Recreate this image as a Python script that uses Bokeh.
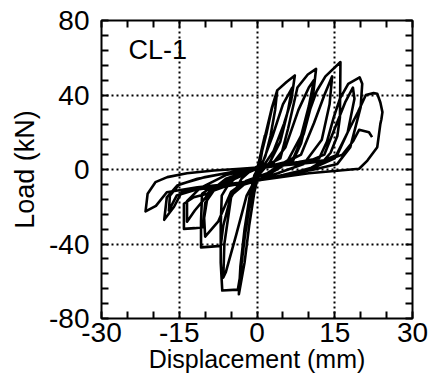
from bokeh.plotting import figure
from bokeh.models import FixedTicker, LinearAxis, Range1d, Label, ColumnDataSource
from bokeh.embed import file_html
from bokeh.resources import INLINE

# ---- data ----
x_ticks = [-30, -15, 0, 15, 30]
x_minor = [-25, -20, -10, -5, 5, 10, 20, 25]
y_ticks = [-80, -40, 0, 40, 80]
y_minor = [-72, -64, -56, -48, -32, -24, -16, -8, 8, 16, 24, 32, 48, 56, 64, 72]
x_grid = [-15, 0, 15]
y_grid = [-40, 0, 40]

c0_disp = [0, 0.8, 1.5, 1.0, 0.2, -0.6, -1.2, -0.8, -0.1]
c0_load = [0, 9, 18, 12, 2, -10, -20, -12, -2]

c1_disp = [-0.1, 0.8, 1.8, 2.9, 3.9, 3.5, 2.6, 1.6, 0.6, -0.5, -1.5, -2.4, -3.5, -3.2, -2.4, -1.4, -0.5]
c1_load = [-2, 8, 19, 33, 42.5, 32, 18, 7, 1, -12, -30, -50, -67, -52, -32, -14, -3]

c2_disp = [-0.5, 0.5, 1.3, 2.9, 3.9, 5.7, 7.3, 6.6, 5.2, 3.2, 1.5, 0, -1.2, -2.3, -3.3, -3.7, -6.7, -7.0, -7.0, -6.8, -5.5, -3.5, -1.0]
c2_load = [-3, 2, 15, 33.5, 42.5, 47, 50.5, 37, 24.5, 10, 3, -3, -15, -35, -58, -64.5, -65, -50, -30, -14, -8, -3, 0]

r2_disp = [-1, 1, 3, 5, 6.8, 6, 4.5, 2.5, 0, -2, -4, -6, -6.5, -6.3, -5, -3, -1]
r2_load = [0, 3, 18, 35, 44, 32, 15, 4, -4, -14, -35, -55, -58, -40, -15, -5, 0]

c3_disp = [-1.0, 2, 4.5, 6, 7.8, 9.8, 11.4, 10.7, 9, 7.1, 5, 2, 0, -2.5, -5, -6.5, -7, -8.8, -10.8, -10.8, -10.6, -9.6, -7.7, -5, -2, 0]
c3_load = [0, 2.5, 6, 22, 44, 51, 54, 37, 19, 6.6, 2, -3, -6, -8, -14, -30, -41, -41.4, -41.8, -28, -13, -11, -10.4, -6, -2, 0.5]

r3_disp = [0, 3, 5.5, 8, 10, 11, 10, 8.5, 6, 2, -2, -5, -7.5, -10, -10.2, -9.5, -7, -3, 0]
r3_load = [0.5, 3, 12, 32, 44, 48, 34, 18, 5, -2, -6, -12, -28, -36, -26, -14, -8, -2, 0.5]

c4_disp = [0, 4, 7, 8.5, 9.7, 11.5, 13.2, 16.1, 16.0, 15.5, 14.2, 12.9, 10.5, 6, 2, 0, -4, -8, -10, -10.4, -12, -14.1, -14.1, -12.2, -9.6, -6, -2]
c4_load = [0.5, 3, 5, 14, 28, 42, 50, 57.7, 28, 18, 9, 4.8, 1, -2.5, -5, -6, -8, -10, -18, -31, -31.5, -31.9, -18.4, -14.9, -13, -5, -1]

r4_disp = [-2, 5, 8.5, 11, 13, 14.5, 14, 12.5, 9, 4, 0, -5, -9, -12, -13.5, -13.5, -11, -6, -1]
r4_load = [-1, 3, 8, 25, 40, 50, 35, 16, 3, -2, -5.5, -8, -12, -22, -28, -17, -10, -3, 0]

c5_disp = [-1, 3, 8, 12, 13.5, 14.8, 16, 17.6, 19.8, 20.3, 20.0, 18, 15.5, 11, 6, 0, -5, -11, -14.5, -16, -17.9, -17.4, -15.4, -11.5, -6, -1]
c5_load = [0, 2, 4, 6, 15, 28, 38, 46, 49.5, 46, 33.5, 12, 3, 0, -2.5, -5.9, -7.7, -9.5, -12, -20, -27, -14.9, -8.6, -5, -2, 0]

r5_disp = [-1, 4, 10, 13, 15, 17, 18.5, 18.8, 17.5, 15, 11, 5, 0, -6, -12, -15.5, -17, -16.8, -15, -10, -4, -1]
r5_load = [0, 2, 4.5, 8, 22, 36, 44, 38, 20, 6, 1, -3, -6, -8.5, -11, -14, -22, -14, -8, -4, -1, 0]

c6_disp = [-1, 4, 9, 13, 15.5, 17.5, 19.5, 21.0, 22.5, 23.2, 23.8, 24.2, 24.0, 23.8, 23.2, 21.3, 19.7, 16, 10, 4.5, 0, -5.1, -11.5, -17.4, -19.5, -21.5, -21.1, -19.6, -17.3, -13.5, -8.3, -3.2]
c6_load = [0, 2, 3.5, 5, 8, 20, 31, 40, 41, 40.7, 36, 30.8, 27, 24.5, 12, 4.8, 0.4, -0.5, -2, -4.1, -5.9, -7.7, -9.5, -12.2, -19.5, -22.5, -13, -6.8, -4.1, -2, -0.5, 0.4]

c7_disp = [-3.2, 2, 8, 13, 16.5, 18.5, 19.7, 21.6, 22.2]
c7_load = [0.4, 1.5, 3, 4.5, 8, 15, 21.3, 20, 17.4]

specimen = "CL-1"
specimen_x = -24.8
specimen_y = 64

disp = (c0_disp + c1_disp + c2_disp + r2_disp + c3_disp + r3_disp + c4_disp + r4_disp
        + c5_disp + r5_disp + c6_disp + c7_disp)
load = (c0_load + c1_load + c2_load + r2_load + c3_load + r3_load + c4_load + r4_load
        + c5_load + r5_load + c6_load + c7_load)

FONT = "Liberation Sans"

p = figure(width=429, height=383, output_backend="svg", toolbar_location=None,
           x_range=Range1d(-30, 30), y_range=Range1d(-80, 80),
           min_border_left=101, min_border_right=17, min_border_top=20, min_border_bottom=65,
           background_fill_color="white", border_fill_color="white")

p.outline_line_color = "black"
p.outline_line_width = 2
p.outline_line_alpha = 1

def style_axis(ax):
    ax.axis_line_color = None
    ax.major_tick_in = 7
    ax.major_tick_out = 0
    ax.minor_tick_in = 7
    ax.minor_tick_out = 0
    ax.major_tick_line_color = "black"
    ax.minor_tick_line_color = "black"
    ax.major_tick_line_width = 2
    ax.minor_tick_line_width = 2

xa = p.xaxis[0]
xa.ticker = FixedTicker(ticks=x_ticks, minor_ticks=x_minor)
style_axis(xa)
xa.major_label_overrides = {t: str(t) for t in x_ticks}
xa.major_label_text_font = FONT
xa.major_label_text_color = "black"
xa.major_label_text_font_size = "28px"
xa.major_label_standoff = 4
xa.axis_label = "Displacement (mm)"
xa.axis_label_text_font = FONT
xa.axis_label_text_font_size = "25px"
xa.axis_label_text_font_style = "normal"
xa.axis_label_text_color = "black"
xa.axis_label_standoff = 0

ya = p.yaxis[0]
ya.ticker = FixedTicker(ticks=y_ticks, minor_ticks=y_minor)
style_axis(ya)
ya.major_label_overrides = {t: str(t) for t in y_ticks}
ya.major_label_text_font = FONT
ya.major_label_text_color = "black"
ya.major_label_text_font_size = "28px"
ya.major_label_standoff = 12
ya.axis_label = "Load (kN)"
ya.axis_label_text_font = FONT
ya.axis_label_text_font_size = "27px"
ya.axis_label_text_font_style = "normal"
ya.axis_label_text_color = "black"
ya.axis_label_standoff = 6

# top and right: tick marks only (all as minor ticks, so no labels are drawn)
top = LinearAxis(ticker=FixedTicker(ticks=[], minor_ticks=x_ticks + x_minor))
style_axis(top)
top.major_label_standoff = 0
p.add_layout(top, "above")
right = LinearAxis(ticker=FixedTicker(ticks=[], minor_ticks=y_ticks + y_minor))
style_axis(right)
right.major_label_standoff = 0
p.add_layout(right, "right")

p.xgrid.ticker = FixedTicker(ticks=x_grid)
p.ygrid.ticker = FixedTicker(ticks=y_grid)
for g in (p.xgrid[0], p.ygrid[0]):
    g.grid_line_color = "black"
    g.grid_line_dash = "2 3"
    g.grid_line_width = 2
    g.grid_line_alpha = 1

src = ColumnDataSource(data=dict(disp=disp, load=load))
p.line("disp", "load", source=src, line_color="black", line_width=2.6, line_join="round")

p.add_layout(Label(x=specimen_x, y=specimen_y, text=specimen, text_font=FONT,
                   text_font_size="27px", text_color="black", text_baseline="alphabetic"))

open("out.html", "w").write(file_html(p, INLINE))
